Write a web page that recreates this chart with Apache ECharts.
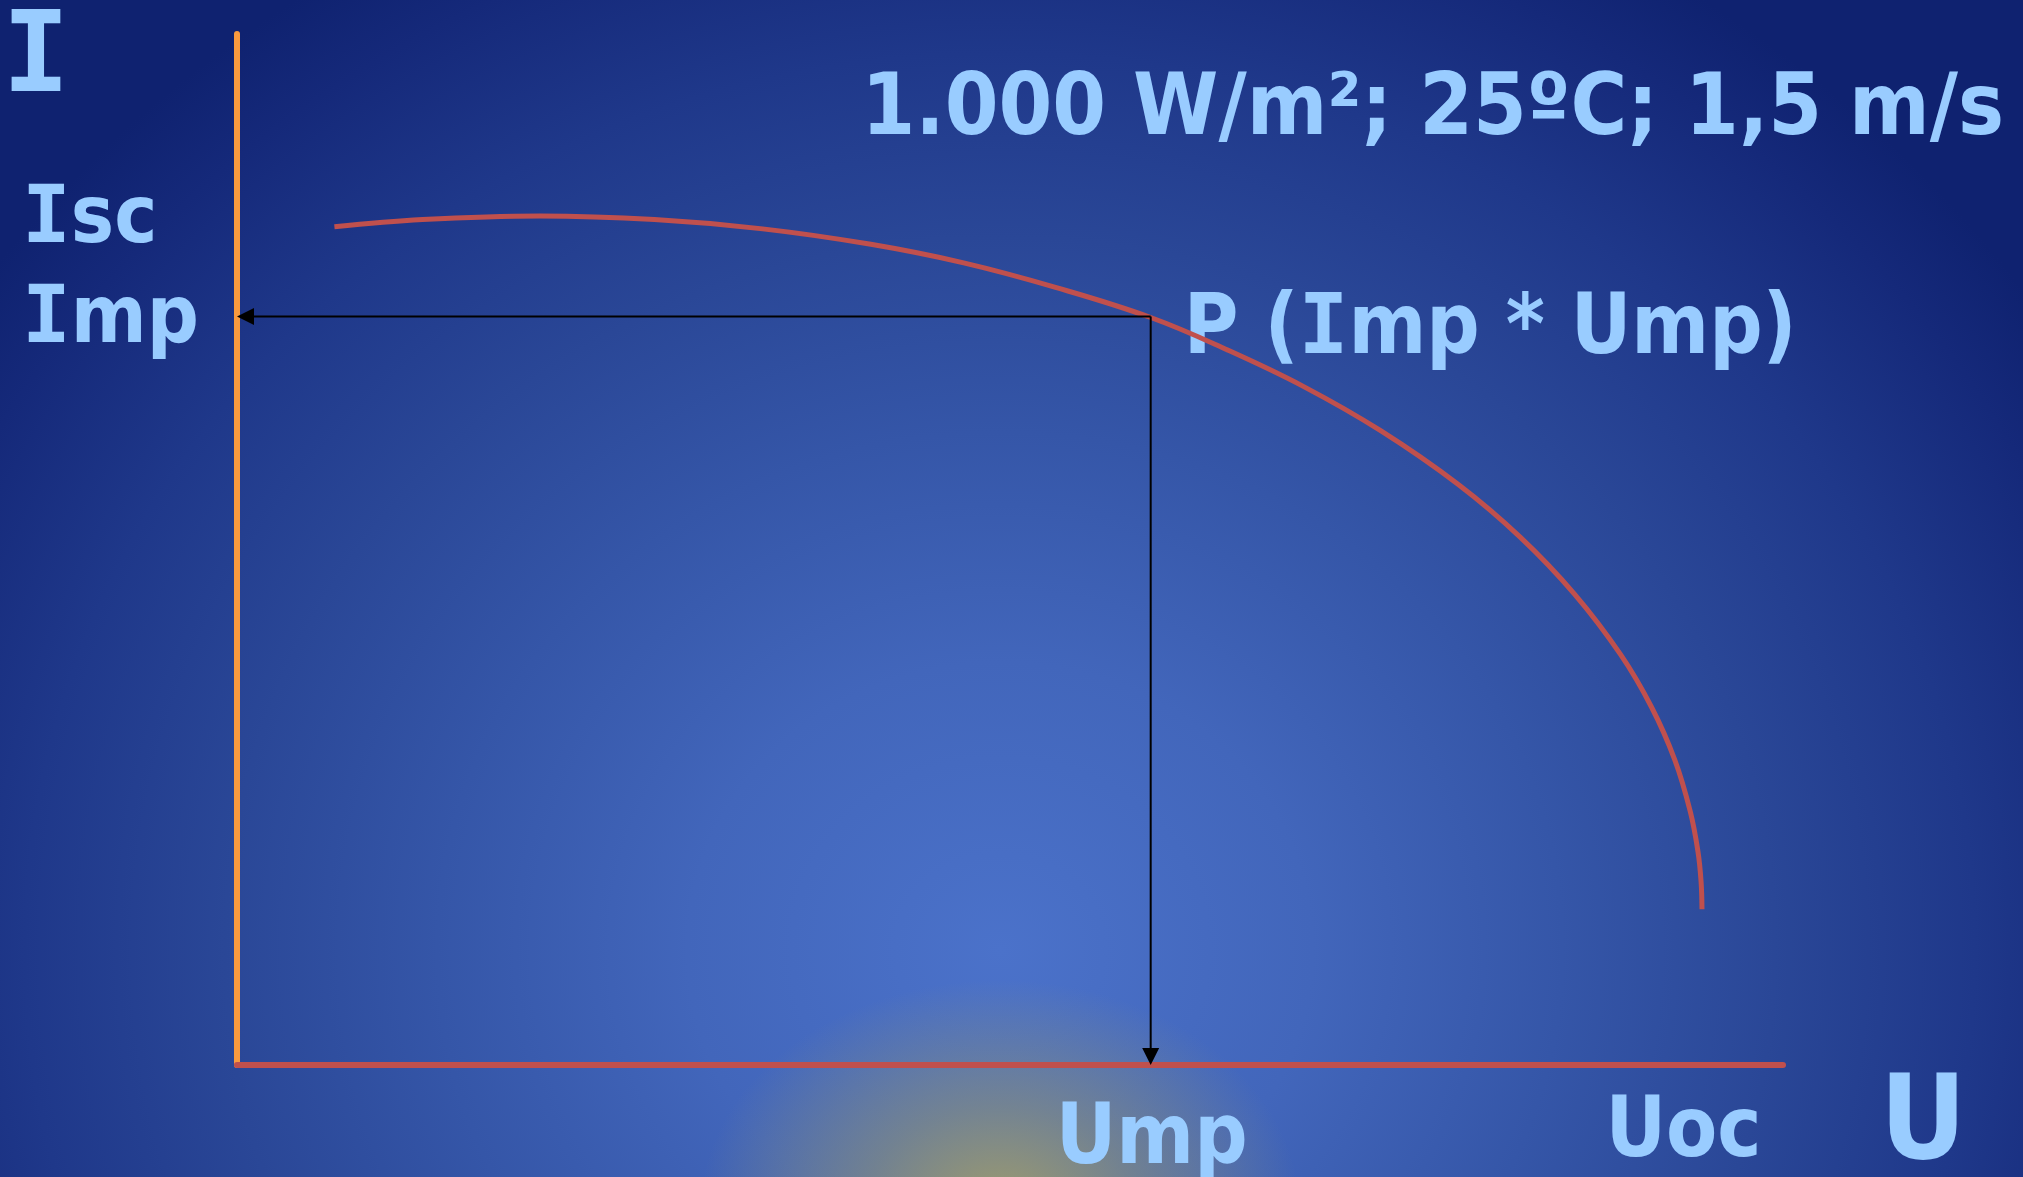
<!DOCTYPE html>
<html>
<head>
<meta charset="utf-8">
<script src="https://cdn.jsdelivr.net/npm/echarts@6/dist/echarts.min.js"></script>
<style>
html,body{margin:0;padding:0;width:2023px;height:1177px;overflow:hidden;}
#c{width:2023px;height:1177px;
background:
 radial-gradient(ellipse 300px 230px at 1000px 1210px, rgba(175,165,95,0.85) 0%, rgba(160,155,100,0.5) 45%, rgba(120,130,140,0) 100%),
 radial-gradient(ellipse 1250px 1150px at 1000px 950px, #4b72ca 0%, #4266bb 25%, #3556a8 45%, #2a4797 62%, #1f388a 78%, #15297a 92%, #0f2270 100%);
}
</style>
</head>
<body>
<div id="c"></div>
<script>
// I-V curve (schematic), U and I in % of axis length
const curveU = [6.3, 12.0, 19.6, 27.0, 34.0, 41.0, 47.0, 53.0, 59.1, 64.0, 69.0, 74.0, 79.0, 83.0, 86.5, 89.5, 91.5, 93.0, 94.0, 94.5, 94.7, 94.76];
const curveI = [81.3, 82.0, 82.35, 82.0, 81.1, 79.6, 77.8, 75.4, 72.5, 69.4, 65.8, 61.5, 56.3, 51.2, 45.7, 39.8, 34.7, 29.6, 24.6, 20.7, 17.8, 15.1];
const Ump = 59.1, Imp = 72.6, Uoc = 94.6, Isc = 82.3;
const titleText = '1.000 W/m²; 25ºC; 1,5 m/s';

const FONT = '"DejaVu Sans Condensed", "DejaVu Sans", sans-serif';
const MONO = '"DejaVu Sans Mono", monospace';
const TXT = '#99ccff';

const chart = echarts.init(document.getElementById('c'), null, {renderer: 'canvas'});

function renderArrow(params, api) {
  const p1 = api.coord([api.value(0), api.value(1)]);
  const p2 = api.coord([api.value(2), api.value(3)]);
  const dx = p2[0] - p1[0], dy = p2[1] - p1[1];
  const len = Math.sqrt(dx * dx + dy * dy) || 1;
  const ux = dx / len, uy = dy / len, nx = -uy, ny = ux;
  const L = 17, W = 8.5;
  const bx = p2[0] - ux * L, by = p2[1] - uy * L;
  return {type: 'group', children: [
    {type: 'line', shape: {x1: p1[0], y1: p1[1], x2: bx, y2: by},
     style: {stroke: '#000', lineWidth: 2}},
    {type: 'polygon', shape: {points: [[p2[0], p2[1]], [bx + nx * W, by + ny * W], [bx - nx * W, by - ny * W]]},
     style: {fill: '#000'}}
  ]};
}

const option = {
  backgroundColor: 'transparent',
  animation: false,
  grid: {left: 237, right: 240, top: 34, bottom: 112},
  xAxis: {type: 'value', min: 0, max: 100,
    axisLine: {show: true, lineStyle: {color: '#c0504d', width: 6}},
    axisTick: {show: false}, axisLabel: {show: false}, splitLine: {show: false}},
  yAxis: {type: 'value', min: 0, max: 100,
    axisLine: {show: true, lineStyle: {color: '#f99a3e', width: 6}},
    axisTick: {show: false}, axisLabel: {show: false}, splitLine: {show: false}},
  series: [
    {type: 'line', data: curveU.map((u, k) => [u, curveI[k]]), smooth: 0.4, symbol: 'none',
     lineStyle: {color: '#c0504d', width: 5}, z: 3},
    {type: 'custom', z: 4, renderItem: renderArrow,
     encode: {x: [0, 2], y: [1, 3]},
     data: [[Ump, Imp, 0, Imp], [Ump, Imp, Ump, 0]]}
  ]
};
chart.setOption(option);

const px = (u, i) => chart.convertToPixel({gridIndex: 0}, [u, i]);
const pImp = px(0, Imp), pIsc = px(0, Isc), pUmp = px(Ump, 0), pUoc = px(Uoc, 0), pP = px(Ump, Imp);
function rich(size) {
  return {
    m: {fontFamily: MONO, fontWeight: 'bold', fontSize: size, fill: TXT},
    n: {fontFamily: FONT, fontWeight: 'bold', fontSize: size, fill: TXT}
  };
}
function txt(text, x, y, size, align) {
  return {type: 'text', z: 1, style: {text: text, x: x, y: y, fill: TXT,
    fontFamily: FONT, fontWeight: 'bold', fontSize: size, rich: rich(size),
    align: align, verticalAlign: 'middle'}};
}
chart.setOption({graphic: [
  txt('{m|I}', 36, 62, 112, 'center'),
  txt('{m|I}{n|sc}', 22, pIsc[1] + 4, 81, 'left'),
  txt('{m|I}{n|mp}', 22, pImp[1] + 4, 81, 'left'),
  txt('{n|' + titleText + '}', 2004, 112, 86, 'right'),
  txt('{n|P (}{m|I}{n|mp * Ump)}', pP[0] + 33, pP[1] + 15, 83, 'left'),
  txt('{n|Ump}', pUmp[0] + 1, 1141, 83, 'center'),
  txt('{n|Uoc}', pUoc[0] - 16, 1134, 83, 'center'),
  txt('{n|U}', 1923, 1127, 118, 'center')
]});
</script>
</body>
</html>
